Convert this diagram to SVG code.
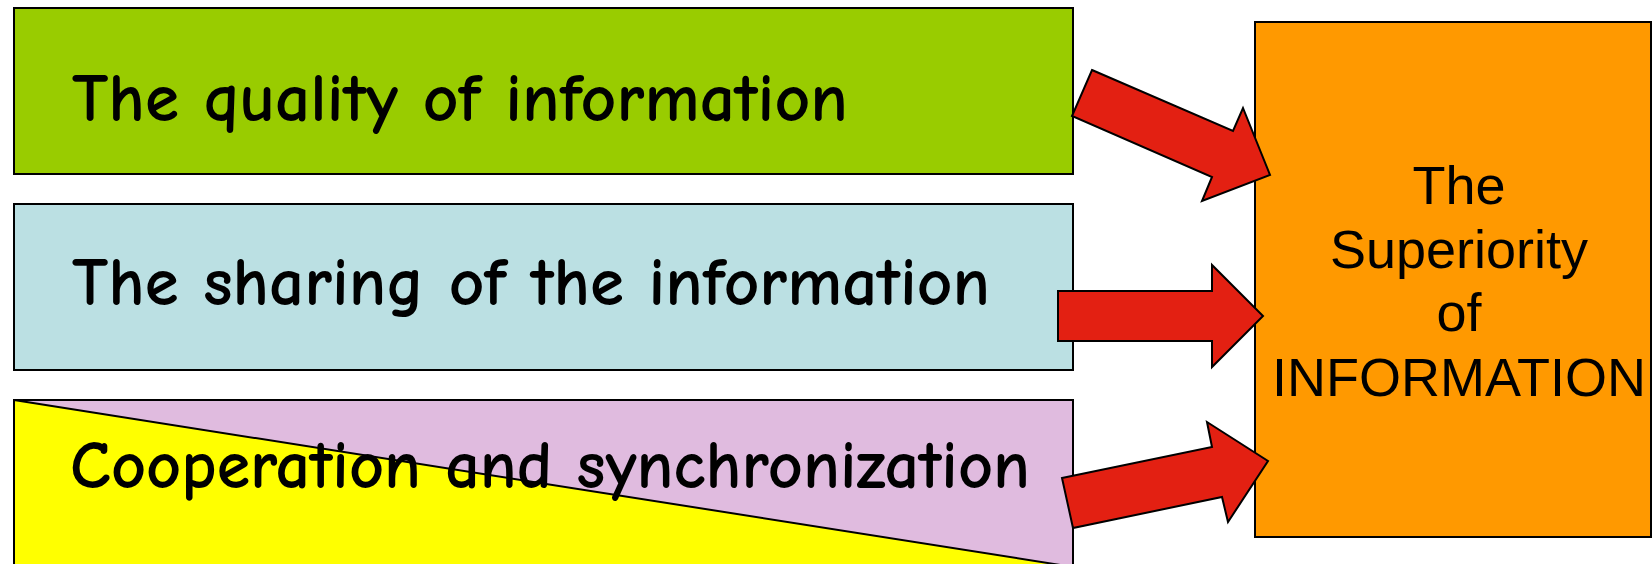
<svg xmlns="http://www.w3.org/2000/svg" width="1652" height="564" viewBox="0 0 1652 564">
<style>
.box{stroke:#000;stroke-width:2}
.lbl{font-family:"Comic Sans MS","Comic Neue","Open Sans",sans-serif;font-size:68px;font-weight:bold;fill:#000}
.ctr{font-family:"Liberation Sans",Arial,sans-serif;font-size:54px;fill:#000;text-anchor:middle}
.arr{fill:#E32012;stroke:#000;stroke-width:2;stroke-linejoin:miter}
</style>
<rect width="1652" height="564" fill="#fff"/>
<g id="node-quality">
<rect class="box" x="14" y="8" width="1059" height="166" fill="#99CC00"/>
<text class="lbl" x="72" y="121" textLength="776" lengthAdjust="spacingAndGlyphs">The quality of information</text>
</g>
<g id="node-sharing">
<rect class="box" x="14" y="204" width="1059" height="166" fill="#BBE0E3"/>
<text class="lbl" x="72" y="305" textLength="918" lengthAdjust="spacingAndGlyphs">The sharing of the information</text>
</g>
<g id="node-cooperation">
<rect class="box" x="14" y="400" width="1059" height="167" fill="#E0BBDF"/>
<polygon points="14,400 1073,567 14,567" fill="#FFFF00"/>
<line x1="14" y1="400" x2="1073" y2="567" stroke="#000" stroke-width="2"/>
<rect x="14" y="400" width="1059" height="167" fill="none" stroke="#000" stroke-width="2"/>
<text class="lbl" x="70" y="488" textLength="960" lengthAdjust="spacingAndGlyphs">Cooperation and synchronization</text>
</g>
<g id="node-superiority">
<rect class="box" x="1255" y="22" width="396" height="515" fill="#FF9900"/>
<text class="ctr" x="1459" y="204">The</text>
<text class="ctr" x="1459" y="268">Superiority</text>
<text class="ctr" x="1459" y="331">of</text>
<text class="ctr" x="1459" y="396">INFORMATION</text>
</g>
<g id="connectors">
<polygon class="arr" points="1092,70 1233,131 1243,108 1270,175 1202,201 1212,177 1072,116"/>
<polygon class="arr" points="1058,291 1212,291 1212,265 1263,316 1212,367 1212,341 1058,341"/>
<polygon class="arr" points="1062,478 1212,447 1207,422 1268,461 1228,522 1222,497 1073,528"/>
</g>
</svg>
